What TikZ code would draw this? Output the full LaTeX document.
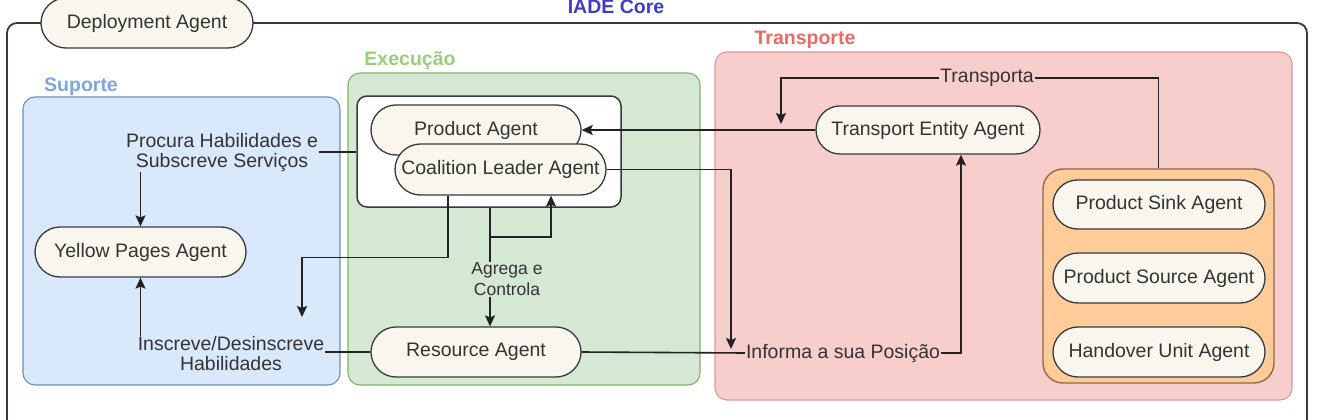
\documentclass[tikz,border=0pt]{standalone}
\usepackage{fontspec}
\setmainfont{Liberation Sans}
\usetikzlibrary{shapes.misc,arrows.meta,calc}
\definecolor{pillfill}{HTML}{F9F7ED}
\definecolor{pillline}{HTML}{36393D}
\definecolor{txt}{HTML}{333333}
\definecolor{supfill}{HTML}{DAE8FC}
\definecolor{supline}{HTML}{6C8EBF}
\definecolor{suptxt}{HTML}{7EA6E0}
\definecolor{exefill}{HTML}{D5E8D4}
\definecolor{exeline}{HTML}{82B366}
\definecolor{exetxt}{HTML}{97D077}
\definecolor{trafill}{HTML}{F8CECC}
\definecolor{traline}{HTML}{D89A98}
\definecolor{tratxt}{HTML}{EA6B66}
\definecolor{orfill}{HTML}{FFCC99}
\definecolor{orline}{HTML}{8A6A4A}
\definecolor{coretxt}{HTML}{3D3DCC}
\definecolor{edge}{HTML}{222222}
\tikzset{
  pill/.style={rounded rectangle, draw=pillline, fill=pillfill, line width=1.3pt,
    text=txt, font=\fontsize{19.5}{21}\selectfont, inner sep=2pt},
  grp/.style={draw, rounded corners=12pt, line width=1.1pt},
  gtitle/.style={font=\bfseries\fontsize{19.5}{21}\selectfont, inner sep=0pt},
  lbl/.style={text=txt, font=\fontsize{19.5}{20}\selectfont, align=center, inner sep=1pt},
  conn/.style={draw=edge, line width=1.6pt},
  arr/.style={conn, -{Stealth[length=11pt,width=10pt,inset=2pt]}}
}
\begin{document}
\begin{tikzpicture}[x=1pt,y=-1pt]
\useasboundingbox (0,0) rectangle (1319,420);
\clip (0,0) rectangle (1319,420);
\fill[white] (0,0) rectangle (1319,420);
% outer box
\draw[draw=pillline, line width=1.8pt, rounded corners=10pt] (7,23) rectangle (1307,460);
\node[gtitle, text=coretxt] (core) at (616,7) {IADE Core};
\node[pill, minimum width=216pt, minimum height=50pt] (dep) at (147,23) {Deployment Agent};
% groups
\node[grp, draw=supline, fill=supfill, minimum width=317pt, minimum height=288pt] (sup) at (181.5,241) {};
\node[gtitle, text=suptxt] (suplbl) at (81,87) {Suporte};
\node[grp, draw=exeline, fill=exefill, minimum width=352pt, minimum height=312pt] (exe) at (524,229) {};
\node[gtitle, text=exetxt] (exelbl) at (410,60) {Execução};
\node[grp, draw=traline, fill=trafill, minimum width=577pt, minimum height=348pt] (tra) at (1003.5,226) {};
\node[gtitle, text=tratxt] (tralbl) at (805,40) {Transporte};
% inner white container
\node[draw=pillline, fill=white, line width=1.5pt, rounded corners=10pt, minimum width=264pt, minimum height=111pt] (ibox) at (489,151.5) {};
\node[pill, minimum width=214pt, minimum height=50pt] (pa) at (476,130) {Product Agent};
\node[pill, minimum width=215pt, minimum height=51pt] (cla) at (500.5,169.5) {Coalition Leader Agent};
\node[pill, minimum width=215pt, minimum height=50pt] (ypa) at (140.5,252) {Yellow Pages Agent};
\node[pill, minimum width=214pt, minimum height=50pt] (ra) at (476,352) {Resource Agent};
\node[pill, minimum width=228pt, minimum height=48pt] (tea) at (928,130) {Transport Entity Agent};
% orange container
\node[draw=orline, fill=orfill, line width=1.4pt, rounded corners=20pt, minimum width=231pt, minimum height=214pt] (orange) at (1158.5,276) {};
\node[pill, minimum width=216pt, minimum height=49pt] (psink) at (1159,204.5) {Product Sink Agent};
\node[pill, minimum width=216pt, minimum height=50pt] (psrc) at (1159,278) {Product Source Agent};
\node[pill, minimum width=216pt, minimum height=50pt] (hua) at (1159,352) {Handover Unit Agent};
% labels
\node[lbl] (procura) at (222,152) {Procura Habilidades e\\Subscreve Serviços};
\node[lbl] (inscreve) at (231,354) {Inscreve/Desinscreve\\Habilidades};
\node[lbl, font=\fontsize{17.5}{21}\selectfont] (agrega) at (507,279.5) {Agrega e\\Controla};
\node[lbl] (transporta) at (987,78) {Transporta};
\node[lbl] (informa) at (843,353) {Informa a sua Posição};
% helper coordinates
\coordinate (ax) at (490,0);
\coordinate (ctip) at (302,317);
\coordinate (itip) at (731,349);
\coordinate (ttip) at (781,124);
% connectors
\draw[conn] (procura.east) -- (procura.east -| ibox.west);
\draw[arr] (ypa.north |- procura.south) -- (ypa.north);
\draw[arr] (ypa.south |- inscreve.north) -- (ypa.south);
\draw[conn] (ra.west) -- (ra.west -| inscreve.east);
\draw[arr] ([xshift=-52.5pt]cla.south) -- ++(0,62) -| (ctip);
\draw[conn] (ibox.south -| ax) -- (ax |- agrega.north);
\draw[arr] (ax |- 0,237) -| ([xshift=50.5pt]cla.south);
\draw[arr] (ax |- agrega.south) -- ([xshift=14pt]ra.north);
\draw[arr] (tea.west) -- (pa.east);
\draw[arr] (cla.east) -| (itip);
\draw[conn] (ra.east) -- (informa.west);
\draw[arr] (informa.east) -| ([xshift=33pt]tea.south);
\draw[conn] (orange.north) |- (transporta.east);
\draw[arr] (transporta.west) -| (ttip);
\end{tikzpicture}
\end{document}
